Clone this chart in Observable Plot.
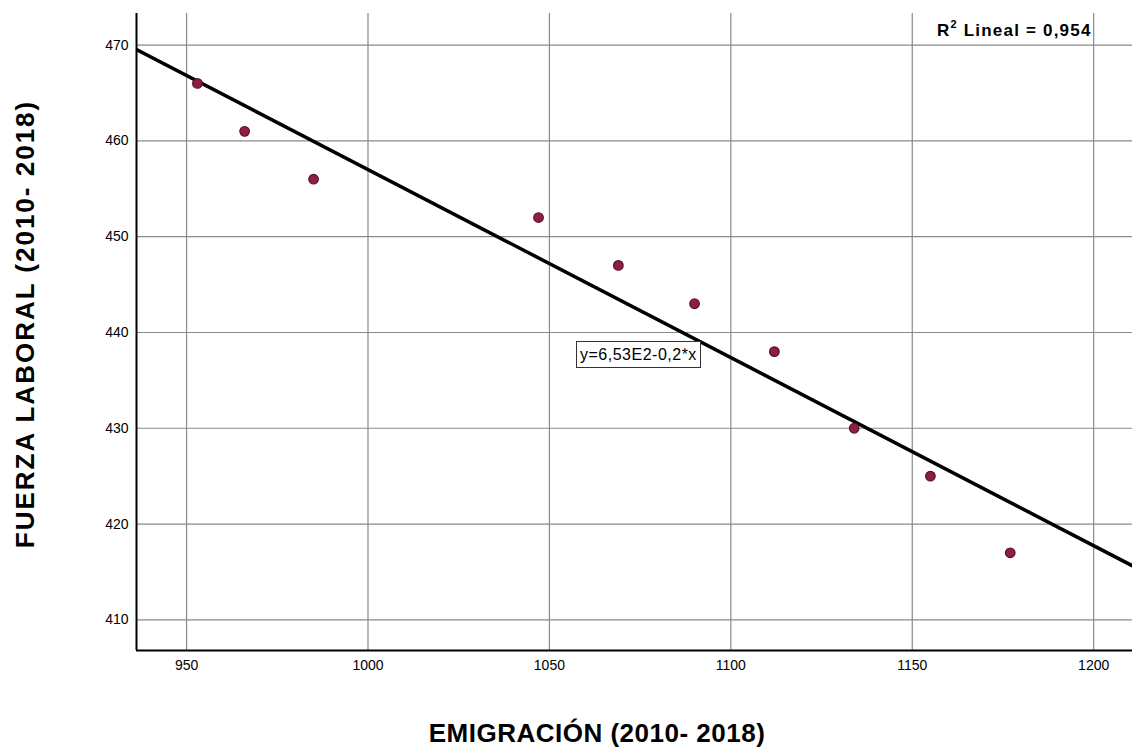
<!DOCTYPE html>
<html>
<head>
<meta charset="utf-8">
<script src="https://cdn.jsdelivr.net/npm/d3@7"></script>
<script src="https://cdn.jsdelivr.net/npm/@observablehq/plot@0.6"></script>
<style>
  html, body { margin: 0; padding: 0; background: #fff; }
  #wrap { position: relative; width: 1132px; height: 748px; overflow: hidden; font-family: "Liberation Sans", Arial, sans-serif; }
  #chart svg { display: block; }
  .xtitle { position: absolute; left: 597px; top: 733px; transform: translate(-50%, -50%); font-weight: bold; font-size: 26px; line-height: 28px; white-space: nowrap; color: #000; letter-spacing: 0.5px; }
  .ytitle { position: absolute; left: 25px; top: 324px; transform: translate(-50%, -50%) rotate(-90deg); font-weight: bold; font-size: 26px; line-height: 28px; white-space: nowrap; color: #000; letter-spacing: 2px; }
  .r2 { position: absolute; left: 937px; top: 19px; font-weight: bold; font-size: 17px; white-space: nowrap; letter-spacing: 1.2px; }
  .r2 sup { font-size: 11px; position: relative; top: -1px; }
  .eq { position: absolute; left: 576px; top: 341px; height: 25px; line-height: 25px; padding: 0 3px; border: 1px solid #333; background: #fff; font-size: 16px; white-space: nowrap; letter-spacing: 0.5px; }
</style>
</head>
<body>
<div id="wrap">
  <div id="chart"></div>
  <div class="xtitle">EMIGRACIÓN (2010- 2018)</div>
  <div class="ytitle">FUERZA LABORAL (2010- 2018)</div>
  <div class="r2">R<sup>2</sup> Lineal = 0,954</div>
  <div class="eq">y=6,53E2-0,2*x</div>
</div>
<script>
// Data
const emigracion = [953, 966, 985, 1047, 1069, 1090, 1112, 1134, 1155, 1177];
const fuerzaLaboral = [466, 461, 456, 452, 447, 443, 438, 430, 425, 417];
const xTicks = [950, 1000, 1050, 1100, 1150, 1200];
const yTicks = [410, 420, 430, 440, 450, 460, 470];
const xDomain = [936.2, 1210.7];
const yDomain = [406.8, 473.3];

const data = emigracion.map((x, i) => ({x, y: fuerzaLaboral[i]}));

// least-squares fit
const mx = d3.mean(emigracion), my = d3.mean(fuerzaLaboral);
const sxy = d3.sum(data, d => (d.x - mx) * (d.y - my));
const sxx = d3.sum(data, d => (d.x - mx) ** 2);
const slope = sxy / sxx;
const intercept = my - slope * mx;
const fitLine = xDomain.map(x => ({x, y: intercept + slope * x}));

const plot = Plot.plot({
  width: 1132,
  height: 748,
  marginLeft: 136,
  marginRight: 0,
  marginTop: 13,
  marginBottom: 98,
  style: {fontFamily: '"Liberation Sans", Arial, sans-serif', fontSize: "14px", color: "#000", background: "#fff"},
  x: {domain: xDomain, ticks: xTicks},
  y: {domain: yDomain, ticks: yTicks},
  marks: [
    Plot.gridX(xTicks, {stroke: "#8a8a8a", strokeOpacity: 1, strokeWidth: 1.2}),
    Plot.gridY(yTicks, {stroke: "#8a8a8a", strokeOpacity: 1, strokeWidth: 1.2}),
    Plot.axisX(xTicks, {tickSize: 0, tickPadding: 10, label: null, fontSize: 14, tickFormat: d => String(d), style: {letterSpacing: "1px"}}),
    Plot.axisY(yTicks, {tickSize: 0, tickPadding: 8, label: null, fontSize: 14, tickFormat: d => String(d), style: {letterSpacing: "1px"}}),
    Plot.line(fitLine, {x: "x", y: "y", stroke: "#000", strokeWidth: 3.5, clip: true}),
    Plot.dot(data, {x: "x", y: "y", r: 4.8, fill: "#8e1f42", stroke: "#5c1028", strokeWidth: 1.2}),
    Plot.ruleX([xDomain[0]], {stroke: "#000", strokeWidth: 2}),
    Plot.ruleY([yDomain[0]], {stroke: "#000", strokeWidth: 2})
  ]
});
document.getElementById("chart").appendChild(plot);
</script>
</body>
</html>
